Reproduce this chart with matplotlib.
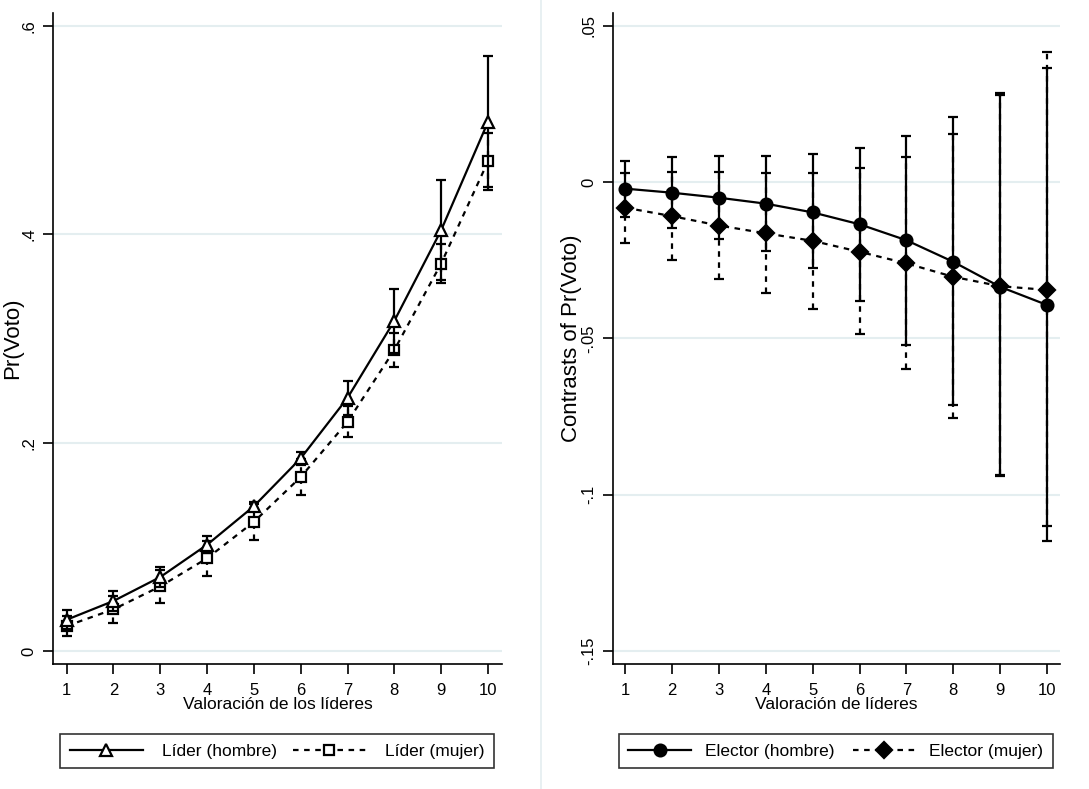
import matplotlib
matplotlib.use('Agg')
import matplotlib.pyplot as plt
import numpy as np

plt.rcParams['font.family'] = ['Liberation Sans', 'DejaVu Sans']

# ---- data ----
x = np.arange(1, 11)

# left panel: Pr(Voto) by leader gender
lider_h = [0.030, 0.048, 0.071, 0.102, 0.139, 0.185, 0.243, 0.317, 0.404, 0.508]
lider_h_lo = [0.021, 0.038, 0.061, 0.094, 0.134, 0.179, 0.227, 0.286, 0.356, 0.445]
lider_h_hi = [0.039, 0.058, 0.081, 0.110, 0.143, 0.191, 0.259, 0.348, 0.452, 0.571]
lider_m = [0.024, 0.040, 0.062, 0.089, 0.124, 0.167, 0.220, 0.289, 0.372, 0.470]
lider_m_lo = [0.014, 0.027, 0.046, 0.072, 0.107, 0.150, 0.205, 0.273, 0.353, 0.443]
lider_m_hi = [0.034, 0.053, 0.078, 0.106, 0.141, 0.184, 0.235, 0.305, 0.391, 0.497]

# right panel: contrasts of Pr(Voto) by voter gender
elector_h = [-0.0021, -0.0034, -0.0050, -0.0069, -0.0097, -0.0135, -0.0186, -0.0255, -0.0335, -0.0393]
elector_h_lo = [-0.0111, -0.0147, -0.0182, -0.0222, -0.0275, -0.0380, -0.0521, -0.0713, -0.0939, -0.1147]
elector_h_hi = [0.0068, 0.0079, 0.0082, 0.0084, 0.0090, 0.0110, 0.0147, 0.0207, 0.0284, 0.0366]
elector_m = [-0.0082, -0.0109, -0.0139, -0.0164, -0.0188, -0.0223, -0.0260, -0.0303, -0.0333, -0.0345]
elector_m_lo = [-0.0194, -0.0250, -0.0310, -0.0356, -0.0407, -0.0486, -0.0599, -0.0756, -0.0938, -0.1100]
elector_m_hi = [0.0030, 0.0033, 0.0032, 0.0028, 0.0030, 0.0044, 0.0081, 0.0154, 0.0278, 0.0415]

left_yticks = [0, 0.2, 0.4, 0.6]
left_ylabels = ['0', '.2', '.4', '.6']
right_yticks = [-0.15, -0.1, -0.05, 0, 0.05]
right_ylabels = ['-.15', '-.1', '-.05', '0', '.05']

GRID = '#e4eef0'
FS = 12


def draw_series(ax, y, lo, hi, ls, marker, filled, ms, label, z):
    y = np.array(y)
    err = [y - np.array(lo), np.array(hi) - y]
    eb = ax.errorbar(x, y, yerr=err, fmt='none', ecolor='black', elinewidth=1.6,
                     capsize=3.3, capthick=1.6, zorder=z)
    eb[2][0].set_linestyle(ls)
    ax.plot(x, y, color='black', linestyle=ls, linewidth=1.6, marker=marker,
            markersize=ms, markerfacecolor='black' if filled else 'white',
            markeredgecolor='black', markeredgewidth=1.6, label=label, zorder=z + 1)


def style_axes(ax, yticks, ylabels, ylim, xlim, ylab, xlab, ylab_x):
    ax.set_xlim(*xlim)
    ax.set_ylim(*ylim)
    ax.set_xticks(x)
    ax.set_xticklabels([str(v) for v in x], fontsize=FS)
    ax.set_yticks(yticks)
    ax.set_yticklabels(ylabels, fontsize=FS, rotation=90, va='center')
    ax.grid(axis='y', color=GRID, linewidth=1.5)
    ax.set_axisbelow(True)
    for s in ['top', 'right']:
        ax.spines[s].set_visible(False)
    for s in ['left', 'bottom']:
        ax.spines[s].set_linewidth(1.2)
    ax.tick_params(direction='out', length=7, width=1.2)
    ax.tick_params(axis='x', pad=7)
    ax.tick_params(axis='y', pad=5)
    ax.set_ylabel(ylab, fontsize=16)
    ax.yaxis.set_label_coords(ylab_x, 0.5)
    ax.set_xlabel(xlab, fontsize=12.5, labelpad=-1)


def add_legend(ax, anchor, hl, pad):
    h, l = ax.get_legend_handles_labels()
    leg = ax.legend(h[::-1], l[::-1], loc='lower left', bbox_to_anchor=anchor,
                    mode='expand', ncol=2, fontsize=12.5, frameon=True, fancybox=False,
                    edgecolor='black', handlelength=hl, handletextpad=pad,
                    borderaxespad=0, borderpad=0.55)
    leg.get_frame().set_linewidth(1.2)


fig = plt.figure(figsize=(10.89, 7.89), dpi=100, facecolor='white')

ax1 = fig.add_axes([0.0487, 0.1584, 0.4123, 0.8251])
draw_series(ax1, lider_m, lider_m_lo, lider_m_hi, (0, (2.5, 2.5)), 's', False, 7.5, 'Líder (mujer)', 2)
draw_series(ax1, lider_h, lider_h_lo, lider_h_hi, '-', '^', False, 8.5, 'Líder (hombre)', 4)
style_axes(ax1, left_yticks, left_ylabels, (-0.0125, 0.6125), (0.71, 10.3),
           'Pr(Voto)', 'Valoración de los líderes', -0.066)
add_legend(ax1, (0.0156, -0.16, 0.966, 0.063), 4.2, 1.1)

ax2 = fig.add_axes([0.5626, 0.1584, 0.4108, 0.8251])
draw_series(ax2, elector_m, elector_m_lo, elector_m_hi, (0, (2.5, 2.5)), 'D', True, 8, 'Elector (mujer)', 2)
draw_series(ax2, elector_h, elector_h_lo, elector_h_hi, '-', 'o', True, 8.5, 'Elector (hombre)', 4)
style_axes(ax2, right_yticks, right_ylabels, (-0.1542, 0.0541), (0.73, 10.28),
           'Contrasts of Pr(Voto)', 'Valoración de líderes', -0.068)
add_legend(ax2, (0.014, -0.16, 0.97, 0.063), 3.6, 0.8)

# thin separator between the two graphs
fig.add_artist(plt.Line2D([541 / 1089, 541 / 1089], [0, 1], color=GRID, linewidth=1.2))

fig.savefig('out.png', dpi=100, facecolor='white')
